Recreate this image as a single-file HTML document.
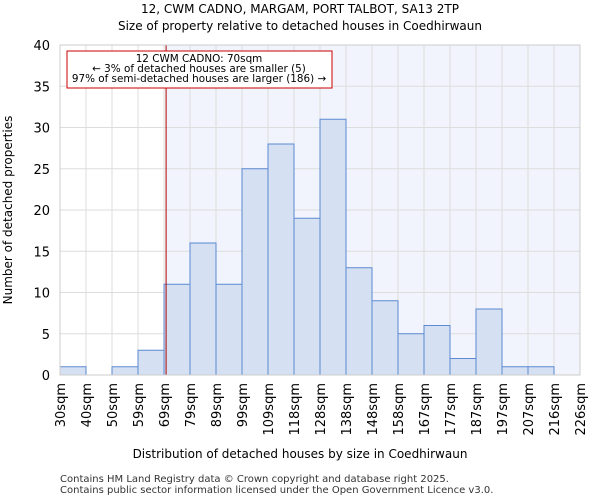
<!DOCTYPE html>
<html><head><meta charset="utf-8"><style>
body{margin:0;background:#fff;font-family:"DejaVu Sans","Liberation Sans",sans-serif}
</style></head><body>
<svg id="chart" width="600" height="500" xmlns="http://www.w3.org/2000/svg" font-family="DejaVu Sans, Liberation Sans, sans-serif">
<text x="300" y="13" text-anchor="middle" font-size="12">12, CWM CADNO, MARGAM, PORT TALBOT, SA13 2TP</text>
<text x="300" y="30" text-anchor="middle" font-size="12">Size of property relative to detached houses in Coedhirwaun</text>
<g id="plot"></g>
<text x="300" y="458" text-anchor="middle" font-size="12">Distribution of detached houses by size in Coedhirwaun</text>
<text transform="translate(12,210) rotate(-90)" text-anchor="middle" font-size="12">Number of detached properties</text>
<text x="60" y="482" font-size="10" fill="#333">Contains HM Land Registry data © Crown copyright and database right 2025.</text>
<text x="60" y="493" font-size="10" fill="#333">Contains public sector information licensed under the Open Government Licence v3.0.</text>
</svg>
<script>
const categories=["30sqm","40sqm","50sqm","59sqm","69sqm","79sqm","89sqm","99sqm","109sqm","118sqm","128sqm","138sqm","148sqm","158sqm","167sqm","177sqm","187sqm","197sqm","207sqm","216sqm","226sqm"];
const counts=[1,0,1,3,11,16,11,25,28,19,31,13,9,5,6,2,8,1,1,0];
const yTicks=[0,5,10,15,20,25,30,35,40];
const markerBin=4.08;
const NS="http://www.w3.org/2000/svg";
const g=document.getElementById('plot');
const L=60,R=580,T=45,B=375,yMax=40;
const bw=(R-L)/counts.length;
const xs=i=>L+i*bw, ys=v=>B-(B-T)*v/yMax;
function mk(t,a){const e=document.createElementNS(NS,t);for(const k in a)e.setAttribute(k,a[k]);g.appendChild(e);return e;}
const mx=xs(markerBin);
let e=mk('rect',{x:mx,y:T,width:R-mx,height:B-T,fill:'#f1f4fc'});


yTicks.forEach(v=>{const y=ys(v);
 let l=mk('line',{x1:L,x2:R,y1:y,y2:y,stroke:'#ddd','stroke-width':1});
 
 
 let t=mk('text',{x:L-10,y:y+5,'text-anchor':'end','font-size':13});t.textContent=v;
 
 
});
categories.forEach((c,i)=>{const x=xs(i);
 let l=mk('line',{x1:x,x2:x,y1:T,y2:B,stroke:'#ddd','stroke-width':1});
 
 
 let t=mk('text',{transform:`translate(${x+5},${B+8}) rotate(-90)`,'text-anchor':'end','font-size':13});t.textContent=c;
 
 
});
counts.forEach((v,i)=>{if(v<=0)return;
 let r=mk('rect',{x:xs(i),y:ys(v),width:bw,height:B-ys(v),fill:'#d6e0f3',stroke:'#5b8ad2','stroke-width':1});
 
 
});
e=mk('line',{x1:mx,x2:mx,y1:T,y2:B,stroke:'#a00','stroke-width':1});


e=mk('rect',{x:67,y:51,width:265,height:37,fill:'#fff',stroke:'#c00','stroke-width':1});


["12 CWM CADNO: 70sqm","← 3% of detached houses are smaller (5)","97% of semi-detached houses are larger (186) →"].forEach((s,i)=>{
 let t=mk('text',{x:199,y:62+i*10,'text-anchor':'middle','font-size':10.4});t.textContent=s;
 
 
});
e=mk('rect',{x:L,y:T,width:R-L,height:B-T,fill:'none',stroke:'#ccc','stroke-width':1});


</script>
</body></html>
